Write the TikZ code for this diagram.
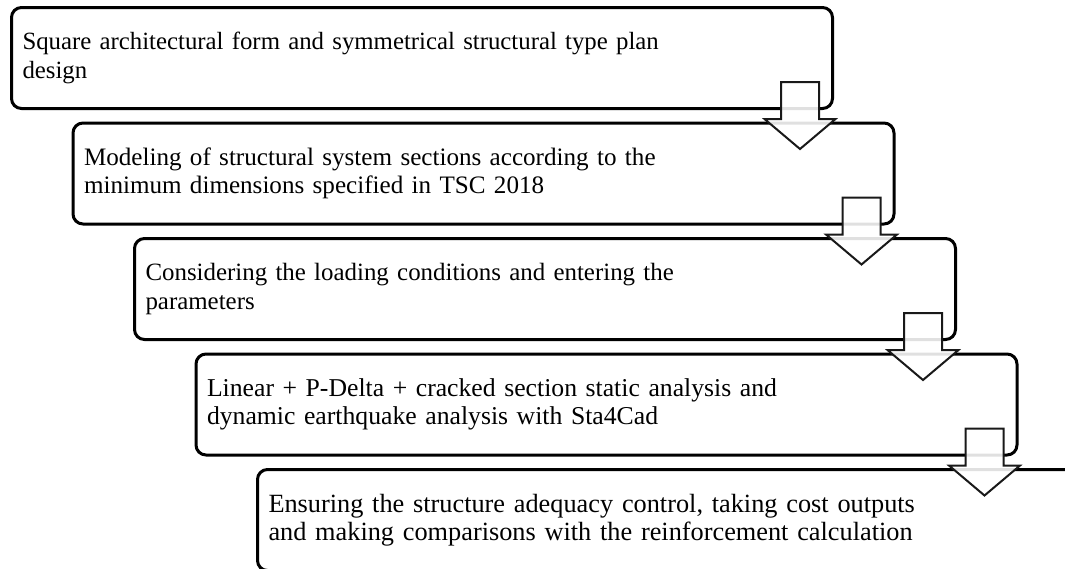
\documentclass[tikz,border=0pt]{standalone}
\usepackage{fontspec}
\setmainfont{Liberation Serif}
\usetikzlibrary{calc}
\tikzset{
  pics/downarrow/.style={code={
    \draw [arrowline] (-19,0) -- (19,0) -- (19,37) -- (35.5,37) -- (0,67) -- (-35.5,37) -- (-19,37) -- cycle;
  }}
}
\begin{document}
\begin{tikzpicture}[x=1pt,y=-1pt,
    stage/.style={draw, line width=3pt, rounded corners=10pt, anchor=north west,
      minimum width=821pt, minimum height=101pt, text width=799pt, inner xsep=11pt,
      align=left, font=\fontsize{#1}{28.5}\selectfont},
    stage/.default=24.8,
    arrowline/.style={draw=black!90, line width=2pt, fill=white, fill opacity=0.88}]
    \clip (0,0) rectangle (1065,568);
    \node [stage] (plan) at (10, 6) {Square architectural form and symmetrical structural type plan\\design};
    \node [stage=25.1] (model) at (71.5, 121.5) {Modeling of structural system sections according to the\\minimum dimensions specified in TSC 2018};
    \node [stage=24.9] (load) at (133, 237) {Considering the loading conditions and entering the\\parameters};
    \node [stage=25.7] (analysis) at (194.5, 352.5) {Linear + P-Delta + cracked section static analysis and\\dynamic earthquake analysis with Sta4Cad};
    \node [stage=26.3] (check) at (256, 468) {Ensuring the structure adequacy control, taking cost outputs\\and making comparisons with the reinforcement calculation};
    \pic at ($(plan.south east)+(-34,-28)$) {downarrow};
    \pic at ($(model.south east)+(-34,-28)$) {downarrow};
    \pic at ($(load.south east)+(-34,-28)$) {downarrow};
    \pic at ($(analysis.south east)+(-34,-28)$) {downarrow};
  \end{tikzpicture}
\end{document}
